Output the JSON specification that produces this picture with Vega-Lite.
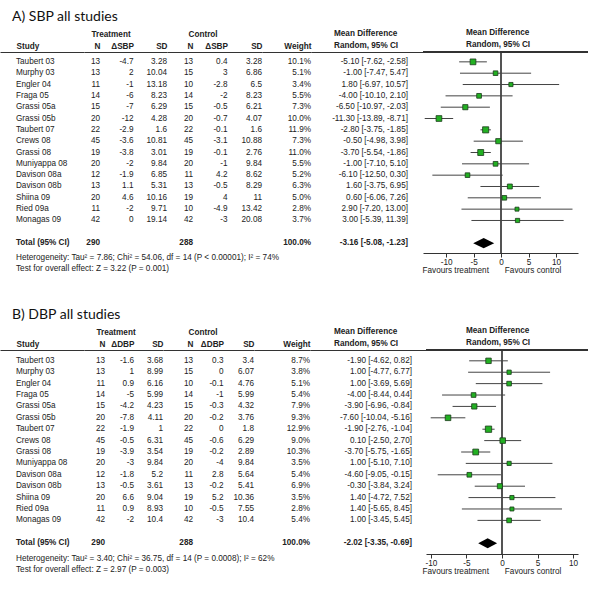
{
"$schema":"https://vega.github.io/schema/vega-lite/v6.json",
"padding":{"left":0,"top":10,"right":0,"bottom":0},
"background":"white",
"datasets":{
"sbp":[
{"study":"Taubert 03","type":"s","nt":13,"dt":-4.7,"sdt":3.28,"nc":13,"dc":0.4,"sdc":3.28,"w":10.1,"wt":"10.1%","md":-5.1,"lo":-7.62,"hi":-2.58,"ci":"-5.10 [-7.62, -2.58]"},
{"study":"Murphy 03","type":"s","nt":13,"dt":2,"sdt":10.04,"nc":15,"dc":3,"sdc":6.86,"w":5.1,"wt":"5.1%","md":-1.0,"lo":-7.47,"hi":5.47,"ci":"-1.00 [-7.47, 5.47]"},
{"study":"Engler 04","type":"s","nt":11,"dt":-1,"sdt":13.18,"nc":10,"dc":-2.8,"sdc":6.5,"w":3.4,"wt":"3.4%","md":1.8,"lo":-6.97,"hi":10.57,"ci":"1.80 [-6.97, 10.57]"},
{"study":"Fraga 05","type":"s","nt":14,"dt":-6,"sdt":8.23,"nc":14,"dc":-2,"sdc":8.23,"w":5.5,"wt":"5.5%","md":-4.0,"lo":-10.1,"hi":2.1,"ci":"-4.00 [-10.10, 2.10]"},
{"study":"Grassi 05a","type":"s","nt":15,"dt":-7,"sdt":6.29,"nc":15,"dc":-0.5,"sdc":6.21,"w":7.3,"wt":"7.3%","md":-6.5,"lo":-10.97,"hi":-2.03,"ci":"-6.50 [-10.97, -2.03]"},
{"study":"Grassi 05b","type":"s","nt":20,"dt":-12,"sdt":4.28,"nc":20,"dc":-0.7,"sdc":4.07,"w":10.0,"wt":"10.0%","md":-11.3,"lo":-13.89,"hi":-8.71,"ci":"-11.30 [-13.89, -8.71]"},
{"study":"Taubert 07","type":"s","nt":22,"dt":-2.9,"sdt":1.6,"nc":22,"dc":-0.1,"sdc":1.6,"w":11.9,"wt":"11.9%","md":-2.8,"lo":-3.75,"hi":-1.85,"ci":"-2.80 [-3.75, -1.85]"},
{"study":"Crews 08","type":"s","nt":45,"dt":-3.6,"sdt":10.81,"nc":45,"dc":-3.1,"sdc":10.88,"w":7.3,"wt":"7.3%","md":-0.5,"lo":-4.98,"hi":3.98,"ci":"-0.50 [-4.98, 3.98]"},
{"study":"Grassi 08","type":"s","nt":19,"dt":-3.8,"sdt":3.01,"nc":19,"dc":-0.1,"sdc":2.76,"w":11.0,"wt":"11.0%","md":-3.7,"lo":-5.54,"hi":-1.86,"ci":"-3.70 [-5.54, -1.86]"},
{"study":"Muniyappa 08","type":"s","nt":20,"dt":-2,"sdt":9.84,"nc":20,"dc":-1,"sdc":9.84,"w":5.5,"wt":"5.5%","md":-1.0,"lo":-7.1,"hi":5.1,"ci":"-1.00 [-7.10, 5.10]"},
{"study":"Davison 08a","type":"s","nt":12,"dt":-1.9,"sdt":6.85,"nc":11,"dc":4.2,"sdc":8.62,"w":5.2,"wt":"5.2%","md":-6.1,"lo":-12.5,"hi":0.3,"ci":"-6.10 [-12.50, 0.30]"},
{"study":"Davison 08b","type":"s","nt":13,"dt":1.1,"sdt":5.31,"nc":13,"dc":-0.5,"sdc":8.29,"w":6.3,"wt":"6.3%","md":1.6,"lo":-3.75,"hi":6.95,"ci":"1.60 [-3.75, 6.95]"},
{"study":"Shiina 09","type":"s","nt":20,"dt":4.6,"sdt":10.16,"nc":19,"dc":4,"sdc":11,"w":5.0,"wt":"5.0%","md":0.6,"lo":-6.06,"hi":7.26,"ci":"0.60 [-6.06, 7.26]"},
{"study":"Ried 09a","type":"s","nt":11,"dt":-2,"sdt":9.71,"nc":10,"dc":-4.9,"sdc":13.42,"w":2.8,"wt":"2.8%","md":2.9,"lo":-7.2,"hi":13.0,"ci":"2.90 [-7.20, 13.00]"},
{"study":"Monagas 09","type":"s","nt":42,"dt":0,"sdt":19.14,"nc":42,"dc":-3,"sdc":20.08,"w":3.7,"wt":"3.7%","md":3.0,"lo":-5.39,"hi":11.39,"ci":"3.00 [-5.39, 11.39]"},
{"study":"Total (95% CI)","type":"t","nt":290,"nc":288,"w":100,"wt":"100.0%","md":-3.16,"lo":-5.08,"hi":-1.23,"ci":"-3.16 [-5.08, -1.23]"}
],
"dbp":[
{"study":"Taubert 03","type":"s","nt":13,"dt":-1.6,"sdt":3.68,"nc":13,"dc":0.3,"sdc":3.4,"w":8.7,"wt":"8.7%","md":-1.9,"lo":-4.62,"hi":0.82,"ci":"-1.90 [-4.62, 0.82]"},
{"study":"Murphy 03","type":"s","nt":13,"dt":1,"sdt":8.99,"nc":15,"dc":0,"sdc":6.07,"w":3.8,"wt":"3.8%","md":1.0,"lo":-4.77,"hi":6.77,"ci":"1.00 [-4.77, 6.77]"},
{"study":"Engler 04","type":"s","nt":11,"dt":0.9,"sdt":6.16,"nc":10,"dc":-0.1,"sdc":4.76,"w":5.1,"wt":"5.1%","md":1.0,"lo":-3.69,"hi":5.69,"ci":"1.00 [-3.69, 5.69]"},
{"study":"Fraga 05","type":"s","nt":14,"dt":-5,"sdt":5.99,"nc":14,"dc":-1,"sdc":5.99,"w":5.4,"wt":"5.4%","md":-4.0,"lo":-8.44,"hi":0.44,"ci":"-4.00 [-8.44, 0.44]"},
{"study":"Grassi 05a","type":"s","nt":15,"dt":-4.2,"sdt":4.23,"nc":15,"dc":-0.3,"sdc":4.32,"w":7.9,"wt":"7.9%","md":-3.9,"lo":-6.96,"hi":-0.84,"ci":"-3.90 [-6.96, -0.84]"},
{"study":"Grassi 05b","type":"s","nt":20,"dt":-7.8,"sdt":4.11,"nc":20,"dc":-0.2,"sdc":3.76,"w":9.3,"wt":"9.3%","md":-7.6,"lo":-10.04,"hi":-5.16,"ci":"-7.60 [-10.04, -5.16]"},
{"study":"Taubert 07","type":"s","nt":22,"dt":-1.9,"sdt":1,"nc":22,"dc":0,"sdc":1.8,"w":12.9,"wt":"12.9%","md":-1.9,"lo":-2.76,"hi":-1.04,"ci":"-1.90 [-2.76, -1.04]"},
{"study":"Crews 08","type":"s","nt":45,"dt":-0.5,"sdt":6.31,"nc":45,"dc":-0.6,"sdc":6.29,"w":9.0,"wt":"9.0%","md":0.1,"lo":-2.5,"hi":2.7,"ci":"0.10 [-2.50, 2.70]"},
{"study":"Grassi 08","type":"s","nt":19,"dt":-3.9,"sdt":3.54,"nc":19,"dc":-0.2,"sdc":2.89,"w":10.3,"wt":"10.3%","md":-3.7,"lo":-5.75,"hi":-1.65,"ci":"-3.70 [-5.75, -1.65]"},
{"study":"Muniyappa 08","type":"s","nt":20,"dt":-3,"sdt":9.84,"nc":20,"dc":-4,"sdc":9.84,"w":3.5,"wt":"3.5%","md":1.0,"lo":-5.1,"hi":7.1,"ci":"1.00 [-5.10, 7.10]"},
{"study":"Davison 08a","type":"s","nt":12,"dt":-1.8,"sdt":5.2,"nc":11,"dc":2.8,"sdc":5.64,"w":5.4,"wt":"5.4%","md":-4.6,"lo":-9.05,"hi":-0.15,"ci":"-4.60 [-9.05, -0.15]"},
{"study":"Davison 08b","type":"s","nt":13,"dt":-0.5,"sdt":3.61,"nc":13,"dc":-0.2,"sdc":5.41,"w":6.9,"wt":"6.9%","md":-0.3,"lo":-3.84,"hi":3.24,"ci":"-0.30 [-3.84, 3.24]"},
{"study":"Shiina 09","type":"s","nt":20,"dt":6.6,"sdt":9.04,"nc":19,"dc":5.2,"sdc":10.36,"w":3.5,"wt":"3.5%","md":1.4,"lo":-4.72,"hi":7.52,"ci":"1.40 [-4.72, 7.52]"},
{"study":"Ried 09a","type":"s","nt":11,"dt":0.9,"sdt":8.93,"nc":10,"dc":-0.5,"sdc":7.55,"w":2.8,"wt":"2.8%","md":1.4,"lo":-5.65,"hi":8.45,"ci":"1.40 [-5.65, 8.45]"},
{"study":"Monagas 09","type":"s","nt":42,"dt":-2,"sdt":10.4,"nc":42,"dc":-3,"sdc":10.4,"w":5.4,"wt":"5.4%","md":1.0,"lo":-3.45,"hi":5.45,"ci":"1.00 [-3.45, 5.45]"},
{"study":"Total (95% CI)","type":"t","nt":290,"nc":288,"w":100,"wt":"100.0%","md":-2.02,"lo":-3.35,"hi":-0.69,"ci":"-2.02 [-3.35, -0.69]"}
]
},
"bounds":"flush",
"spacing":298,
"vconcat":[
{
"title":{"text":"A)  SBP all studies","anchor":"start","font":"Lato","fontSize":14,"fontWeight":"normal","color":"#111","dx":12,"offset":4},
"bounds":"flush","spacing":0,
"hconcat":[
{"width":84,"height":201,"data":{"name":"sbp"},
"title":{"text":["Heterogeneity: Tau² = 7.86; Chi² = 54.06, df = 14 (P < 0.00001); I² = 74%","Test for overall effect: Z = 3.22 (P = 0.001)"],"orient":"bottom","anchor":"start","frame":"group","dx":16,"offset":1,"fontSize":8.2,"fontWeight":"normal","lineHeight":11,"color":"#222","font":"Liberation Sans"},
"encoding":{
"x":{"datum":"Study","type":"nominal","scale":{"type":"point","padding":0.5,"align":0.19},"axis":{"orient":"top","labelAlign":"left","labelFontWeight":"bold","ticks":false,"domain":true,"labelPadding":2,"labelAngle":0,"title":null}},
"y":{"field":"study","type":"nominal","scale":{"type":"point","domain":["Taubert 03","Murphy 03","Engler 04","Fraga 05","Grassi 05a","Grassi 05b","Taubert 07","Crews 08","Grassi 08","Muniyappa 08","Davison 08a","Davison 08b","Shiina 09","Ried 09a","Monagas 09"," ","Total (95% CI)"],"padding":0.87,"align":0.5},"axis":null}},
"layer":[
{"transform":[{"filter":"datum.type=='s'"}],"mark":{"type":"text","align":"left"},"encoding":{"text":{"field":"study","type":"nominal"}}},
{"transform":[{"filter":"datum.type=='t'"}],"mark":{"type":"text","align":"left","fontWeight":"bold"},"encoding":{"text":{"field":"study","type":"nominal"}}}
]},
{"width":83,"height":201,"data":{"name":"sbp"},
"transform":[{"fold":["nt","dt","sdt"],"as":["m","v"]},{"filter":"isValid(datum.v)"}],
"encoding":{
"x":{"field":"m","type":"nominal","scale":{"type":"point","domain":["nt","dt","sdt"],"padding":0.239,"align":1},"axis":{"orient":"top","labelExpr":"{'nt':'N','dt':'ΔSBP','sdt':'SD'}[datum.value]","labelAlign":"right","labelFontWeight":"bold","ticks":false,"domain":true,"labelPadding":2,"labelAngle":0,"title":"Treatment","titleX":7,"titleAlign":"left","titlePadding":3}},
"y":{"field":"study","type":"nominal","scale":{"type":"point","domain":["Taubert 03","Murphy 03","Engler 04","Fraga 05","Grassi 05a","Grassi 05b","Taubert 07","Crews 08","Grassi 08","Muniyappa 08","Davison 08a","Davison 08b","Shiina 09","Ried 09a","Monagas 09"," ","Total (95% CI)"],"padding":0.87,"align":0.5},"axis":null}},
"layer":[
{"transform":[{"filter":"datum.type=='s'"}],"mark":{"type":"text","align":"right"},"encoding":{"text":{"field":"v","type":"nominal"}}},
{"transform":[{"filter":"datum.type=='t'"}],"mark":{"type":"text","align":"right","fontWeight":"bold"},"encoding":{"text":{"field":"v","type":"nominal"}}}
]},
{"width":95,"height":201,"data":{"name":"sbp"},
"transform":[{"fold":["nc","dc","sdc"],"as":["m","v"]},{"filter":"isValid(datum.v)"}],
"encoding":{
"x":{"field":"m","type":"nominal","scale":{"type":"point","domain":["nc","dc","sdc"],"padding":0.377,"align":1},"axis":{"orient":"top","labelExpr":"{'nc':'N','dc':'ΔSBP','sdc':'SD'}[datum.value]","labelAlign":"right","labelFontWeight":"bold","ticks":false,"domain":true,"labelPadding":2,"labelAngle":0,"title":"Control","titleX":21,"titleAlign":"left","titlePadding":3}},
"y":{"field":"study","type":"nominal","scale":{"type":"point","domain":["Taubert 03","Murphy 03","Engler 04","Fraga 05","Grassi 05a","Grassi 05b","Taubert 07","Crews 08","Grassi 08","Muniyappa 08","Davison 08a","Davison 08b","Shiina 09","Ried 09a","Monagas 09"," ","Total (95% CI)"],"padding":0.87,"align":0.5},"axis":null}},
"layer":[
{"transform":[{"filter":"datum.type=='s'"}],"mark":{"type":"text","align":"right"},"encoding":{"text":{"field":"v","type":"nominal"}}},
{"transform":[{"filter":"datum.type=='t'"}],"mark":{"type":"text","align":"right","fontWeight":"bold"},"encoding":{"text":{"field":"v","type":"nominal"}}}
]},
{"width":49,"height":201,"data":{"name":"sbp"},
"encoding":{
"x":{"datum":"Weight","type":"nominal","scale":{"type":"point","padding":0.5,"align":1},"axis":{"orient":"top","labelAlign":"right","labelFontWeight":"bold","ticks":false,"domain":true,"labelPadding":2,"labelAngle":0,"title":null}},
"y":{"field":"study","type":"nominal","scale":{"type":"point","domain":["Taubert 03","Murphy 03","Engler 04","Fraga 05","Grassi 05a","Grassi 05b","Taubert 07","Crews 08","Grassi 08","Muniyappa 08","Davison 08a","Davison 08b","Shiina 09","Ried 09a","Monagas 09"," ","Total (95% CI)"],"padding":0.87,"align":0.5},"axis":null}},
"layer":[
{"transform":[{"filter":"datum.type=='s'"}],"mark":{"type":"text","align":"right"},"encoding":{"text":{"field":"wt","type":"nominal"}}},
{"transform":[{"filter":"datum.type=='t'"}],"mark":{"type":"text","align":"right","fontWeight":"bold"},"encoding":{"text":{"field":"wt","type":"nominal"}}}
]},
{"width":112,"height":201,"data":{"name":"sbp"},
"title":{"text":["Mean Difference","Random, 95% CI"],"anchor":"start","frame":"group","dx":23,"offset":2,"fontSize":8.2,"fontWeight":"bold","lineHeight":12,"color":"#222","font":"Liberation Sans"},
"encoding":{
"x":{"datum":"MD","type":"nominal","scale":{"type":"point","padding":0.5,"align":0.866},"axis":{"orient":"top","labels":false,"ticks":false,"domain":true,"title":null}},
"y":{"field":"study","type":"nominal","scale":{"type":"point","domain":["Taubert 03","Murphy 03","Engler 04","Fraga 05","Grassi 05a","Grassi 05b","Taubert 07","Crews 08","Grassi 08","Muniyappa 08","Davison 08a","Davison 08b","Shiina 09","Ried 09a","Monagas 09"," ","Total (95% CI)"],"padding":0.87,"align":0.5},"axis":null}},
"layer":[
{"transform":[{"filter":"datum.type=='s'"}],"mark":{"type":"text","align":"right"},"encoding":{"text":{"field":"ci","type":"nominal"}}},
{"transform":[{"filter":"datum.type=='t'"}],"mark":{"type":"text","align":"right","fontWeight":"bold"},"encoding":{"text":{"field":"ci","type":"nominal"}}}
]},
{"width":155,"height":201,"data":{"name":"sbp"},
"title":{"text":["Mean Difference","Random, 95% CI"],"anchor":"start","frame":"group","dx":43,"offset":2,"fontSize":8.2,"fontWeight":"bold","lineHeight":12,"color":"#222","font":"Liberation Sans"},
"layer":[
{"mark":{"type":"rule","color":"#555","strokeWidth":1},"encoding":{"x":{"datum":0,"type":"quantitative","scale":{"domain":[-14.2,14.0],"nice":false,"zero":false},"axis":{"orient":"bottom","values":[-10,-5,0,5,10],"tickCount":5,"domain":true,"ticks":true,"tickSize":4,"labelExpr":"''+datum.value","labelOverlap":false,"labelBound":false,"labelFlush":false,"labelPadding":1,"title":"Favours treatment\u00a0\u00a0\u00a0\u00a0\u00a0\u00a0\u00a0Favours control","titleX":-1,"titleAlign":"left","titleAnchor":"start","titleFontWeight":"normal","titlePadding":1,"grid":false}}}},
{"mark":{"type":"rule","color":"#333","strokeWidth":1},"encoding":{"x":{"datum":-14.2,"type":"quantitative","scale":{"domain":[-14.2,14.0],"nice":false,"zero":false},"axis":{"orient":"bottom","values":[-10,-5,0,5,10],"tickCount":5,"domain":true,"ticks":true,"tickSize":4,"labelExpr":"''+datum.value","labelOverlap":false,"labelBound":false,"labelFlush":false,"labelPadding":1,"title":"Favours treatment\u00a0\u00a0\u00a0\u00a0\u00a0\u00a0\u00a0Favours control","titleX":-1,"titleAlign":"left","titleAnchor":"start","titleFontWeight":"normal","titlePadding":1,"grid":false}},"x2":{"datum":15.82},"y":{"value":0}}},
{"transform":[{"filter":"datum.type=='s'"}],"mark":{"type":"rule","color":"#444","strokeWidth":1},"encoding":{"x":{"field":"lo","type":"quantitative","scale":{"domain":[-14.2,14.0],"nice":false,"zero":false},"axis":{"orient":"bottom","values":[-10,-5,0,5,10],"tickCount":5,"domain":true,"ticks":true,"tickSize":4,"labelExpr":"''+datum.value","labelOverlap":false,"labelBound":false,"labelFlush":false,"labelPadding":1,"title":"Favours treatment\u00a0\u00a0\u00a0\u00a0\u00a0\u00a0\u00a0Favours control","titleX":-1,"titleAlign":"left","titleAnchor":"start","titleFontWeight":"normal","titlePadding":1,"grid":false}},"x2":{"field":"hi"},"y":{"field":"study","type":"nominal","scale":{"type":"point","domain":["Taubert 03","Murphy 03","Engler 04","Fraga 05","Grassi 05a","Grassi 05b","Taubert 07","Crews 08","Grassi 08","Muniyappa 08","Davison 08a","Davison 08b","Shiina 09","Ried 09a","Monagas 09"," ","Total (95% CI)"],"padding":0.87,"align":0.5},"axis":null}}},
{"transform":[{"filter":"datum.type=='s'"}],"mark":{"type":"point","shape":"square","filled":true,"fill":"#22b022","stroke":"#1a3a1a","strokeWidth":0.8,"opacity":1},"encoding":{"x":{"field":"md","type":"quantitative","scale":{"domain":[-14.2,14.0],"nice":false,"zero":false},"axis":{"orient":"bottom","values":[-10,-5,0,5,10],"tickCount":5,"domain":true,"ticks":true,"tickSize":4,"labelExpr":"''+datum.value","labelOverlap":false,"labelBound":false,"labelFlush":false,"labelPadding":1,"title":"Favours treatment\u00a0\u00a0\u00a0\u00a0\u00a0\u00a0\u00a0Favours control","titleX":-1,"titleAlign":"left","titleAnchor":"start","titleFontWeight":"normal","titlePadding":1,"grid":false}},"y":{"field":"study","type":"nominal","scale":{"type":"point","domain":["Taubert 03","Murphy 03","Engler 04","Fraga 05","Grassi 05a","Grassi 05b","Taubert 07","Crews 08","Grassi 08","Muniyappa 08","Davison 08a","Davison 08b","Shiina 09","Ried 09a","Monagas 09"," ","Total (95% CI)"],"padding":0.87,"align":0.5},"axis":null},"size":{"field":"w","type":"quantitative","scale":{"domain":[2,13],"range":[14,40]},"legend":null}}},
{"transform":[{"filter":"datum.type=='t'"}],"mark":{"type":"point","shape":"M-1,0L0,-0.48L1,0L0,0.48Z","filled":true,"color":"#000","size":441,"opacity":1},"encoding":{"x":{"field":"md","type":"quantitative","scale":{"domain":[-14.2,14.0],"nice":false,"zero":false},"axis":{"orient":"bottom","values":[-10,-5,0,5,10],"tickCount":5,"domain":true,"ticks":true,"tickSize":4,"labelExpr":"''+datum.value","labelOverlap":false,"labelBound":false,"labelFlush":false,"labelPadding":1,"title":"Favours treatment\u00a0\u00a0\u00a0\u00a0\u00a0\u00a0\u00a0Favours control","titleX":-1,"titleAlign":"left","titleAnchor":"start","titleFontWeight":"normal","titlePadding":1,"grid":false}},"y":{"field":"study","type":"nominal","scale":{"type":"point","domain":["Taubert 03","Murphy 03","Engler 04","Fraga 05","Grassi 05a","Grassi 05b","Taubert 07","Crews 08","Grassi 08","Muniyappa 08","Davison 08a","Davison 08b","Shiina 09","Ried 09a","Monagas 09"," ","Total (95% CI)"],"padding":0.87,"align":0.5},"axis":null}}}
]}
]
},
{
"title":{"text":"B)  DBP all studies","anchor":"start","font":"Lato","fontSize":14,"fontWeight":"normal","color":"#111","dx":12,"offset":4},
"bounds":"flush","spacing":0,
"hconcat":[
{"width":84,"height":204,"data":{"name":"dbp"},
"title":{"text":["Heterogeneity: Tau² = 3.40; Chi² = 36.75, df = 14 (P = 0.0008); I² = 62%","Test for overall effect: Z = 2.97 (P = 0.003)"],"orient":"bottom","anchor":"start","frame":"group","dx":16,"offset":1,"fontSize":8.2,"fontWeight":"normal","lineHeight":11,"color":"#222","font":"Liberation Sans"},
"encoding":{
"x":{"datum":"Study","type":"nominal","scale":{"type":"point","padding":0.5,"align":0.19},"axis":{"orient":"top","labelAlign":"left","labelFontWeight":"bold","ticks":false,"domain":true,"labelPadding":2,"labelAngle":0,"title":null}},
"y":{"field":"study","type":"nominal","scale":{"type":"point","domain":["Taubert 03","Murphy 03","Engler 04","Fraga 05","Grassi 05a","Grassi 05b","Taubert 07","Crews 08","Grassi 08","Muniyappa 08","Davison 08a","Davison 08b","Shiina 09","Ried 09a","Monagas 09"," ","Total (95% CI)"],"padding":0.95,"align":0.5},"axis":null}},
"layer":[
{"transform":[{"filter":"datum.type=='s'"}],"mark":{"type":"text","align":"left"},"encoding":{"text":{"field":"study","type":"nominal"}}},
{"transform":[{"filter":"datum.type=='t'"}],"mark":{"type":"text","align":"left","fontWeight":"bold"},"encoding":{"text":{"field":"study","type":"nominal"}}}
]},
{"width":79,"height":204,"data":{"name":"dbp"},
"transform":[{"fold":["nt","dt","sdt"],"as":["m","v"]},{"filter":"isValid(datum.v)"}],
"encoding":{
"x":{"field":"m","type":"nominal","scale":{"type":"point","domain":["nt","dt","sdt"],"padding":0.362,"align":1},"axis":{"orient":"top","labelExpr":"{'nt':'N','dt':'ΔDBP','sdt':'SD'}[datum.value]","labelAlign":"right","labelFontWeight":"bold","ticks":false,"domain":true,"labelPadding":2,"labelAngle":0,"title":"Treatment","titleX":12,"titleAlign":"left","titlePadding":3}},
"y":{"field":"study","type":"nominal","scale":{"type":"point","domain":["Taubert 03","Murphy 03","Engler 04","Fraga 05","Grassi 05a","Grassi 05b","Taubert 07","Crews 08","Grassi 08","Muniyappa 08","Davison 08a","Davison 08b","Shiina 09","Ried 09a","Monagas 09"," ","Total (95% CI)"],"padding":0.95,"align":0.5},"axis":null}},
"layer":[
{"transform":[{"filter":"datum.type=='s'"}],"mark":{"type":"text","align":"right"},"encoding":{"text":{"field":"v","type":"nominal"}}},
{"transform":[{"filter":"datum.type=='t'"}],"mark":{"type":"text","align":"right","fontWeight":"bold"},"encoding":{"text":{"field":"v","type":"nominal"}}}
]},
{"width":91,"height":204,"data":{"name":"dbp"},
"transform":[{"fold":["nc","dc","sdc"],"as":["m","v"]},{"filter":"isValid(datum.v)"}],
"encoding":{
"x":{"field":"m","type":"nominal","scale":{"type":"point","domain":["nc","dc","sdc"],"padding":0.492,"align":1},"axis":{"orient":"top","labelExpr":"{'nc':'N','dc':'ΔDBP','sdc':'SD'}[datum.value]","labelAlign":"right","labelFontWeight":"bold","ticks":false,"domain":true,"labelPadding":2,"labelAngle":0,"title":"Control","titleX":25,"titleAlign":"left","titlePadding":3}},
"y":{"field":"study","type":"nominal","scale":{"type":"point","domain":["Taubert 03","Murphy 03","Engler 04","Fraga 05","Grassi 05a","Grassi 05b","Taubert 07","Crews 08","Grassi 08","Muniyappa 08","Davison 08a","Davison 08b","Shiina 09","Ried 09a","Monagas 09"," ","Total (95% CI)"],"padding":0.95,"align":0.5},"axis":null}},
"layer":[
{"transform":[{"filter":"datum.type=='s'"}],"mark":{"type":"text","align":"right"},"encoding":{"text":{"field":"v","type":"nominal"}}},
{"transform":[{"filter":"datum.type=='t'"}],"mark":{"type":"text","align":"right","fontWeight":"bold"},"encoding":{"text":{"field":"v","type":"nominal"}}}
]},
{"width":56,"height":204,"data":{"name":"dbp"},
"encoding":{
"x":{"datum":"Weight","type":"nominal","scale":{"type":"point","padding":0.5,"align":1},"axis":{"orient":"top","labelAlign":"right","labelFontWeight":"bold","ticks":false,"domain":true,"labelPadding":2,"labelAngle":0,"title":null}},
"y":{"field":"study","type":"nominal","scale":{"type":"point","domain":["Taubert 03","Murphy 03","Engler 04","Fraga 05","Grassi 05a","Grassi 05b","Taubert 07","Crews 08","Grassi 08","Muniyappa 08","Davison 08a","Davison 08b","Shiina 09","Ried 09a","Monagas 09"," ","Total (95% CI)"],"padding":0.95,"align":0.5},"axis":null}},
"layer":[
{"transform":[{"filter":"datum.type=='s'"}],"mark":{"type":"text","align":"right"},"encoding":{"text":{"field":"wt","type":"nominal"}}},
{"transform":[{"filter":"datum.type=='t'"}],"mark":{"type":"text","align":"right","fontWeight":"bold"},"encoding":{"text":{"field":"wt","type":"nominal"}}}
]},
{"width":116,"height":204,"data":{"name":"dbp"},
"title":{"text":["Mean Difference","Random, 95% CI"],"anchor":"start","frame":"group","dx":24,"offset":2,"fontSize":8.2,"fontWeight":"bold","lineHeight":12,"color":"#222","font":"Liberation Sans"},
"encoding":{
"x":{"datum":"MD","type":"nominal","scale":{"type":"point","padding":0.5,"align":0.879},"axis":{"orient":"top","labels":false,"ticks":false,"domain":true,"title":null}},
"y":{"field":"study","type":"nominal","scale":{"type":"point","domain":["Taubert 03","Murphy 03","Engler 04","Fraga 05","Grassi 05a","Grassi 05b","Taubert 07","Crews 08","Grassi 08","Muniyappa 08","Davison 08a","Davison 08b","Shiina 09","Ried 09a","Monagas 09"," ","Total (95% CI)"],"padding":0.95,"align":0.5},"axis":null}},
"layer":[
{"transform":[{"filter":"datum.type=='s'"}],"mark":{"type":"text","align":"right"},"encoding":{"text":{"field":"ci","type":"nominal"}}},
{"transform":[{"filter":"datum.type=='t'"}],"mark":{"type":"text","align":"right","fontWeight":"bold"},"encoding":{"text":{"field":"ci","type":"nominal"}}}
]},
{"width":152,"height":204,"data":{"name":"dbp"},
"title":{"text":["Mean Difference","Random, 95% CI"],"anchor":"start","frame":"group","dx":40,"offset":2,"fontSize":8.2,"fontWeight":"bold","lineHeight":12,"color":"#222","font":"Liberation Sans"},
"layer":[
{"mark":{"type":"rule","color":"#555","strokeWidth":1},"encoding":{"x":{"datum":0,"type":"quantitative","scale":{"domain":[-10.7,10.7],"nice":false,"zero":false},"axis":{"orient":"bottom","values":[-10,-5,0,5,10],"tickCount":5,"domain":true,"ticks":true,"tickSize":4,"labelExpr":"''+datum.value","labelOverlap":false,"labelBound":false,"labelFlush":false,"labelPadding":1,"title":"Favours treatment\u00a0\u00a0\u00a0\u00a0\u00a0\u00a0\u00a0Favours control","titleX":-4,"titleAlign":"left","titleAnchor":"start","titleFontWeight":"normal","titlePadding":1,"grid":false}}}},
{"mark":{"type":"rule","color":"#333","strokeWidth":1},"encoding":{"x":{"datum":-10.7,"type":"quantitative","scale":{"domain":[-10.7,10.7],"nice":false,"zero":false},"axis":{"orient":"bottom","values":[-10,-5,0,5,10],"tickCount":5,"domain":true,"ticks":true,"tickSize":4,"labelExpr":"''+datum.value","labelOverlap":false,"labelBound":false,"labelFlush":false,"labelPadding":1,"title":"Favours treatment\u00a0\u00a0\u00a0\u00a0\u00a0\u00a0\u00a0Favours control","titleX":-4,"titleAlign":"left","titleAnchor":"start","titleFontWeight":"normal","titlePadding":1,"grid":false}},"x2":{"datum":12.11},"y":{"value":0}}},
{"transform":[{"filter":"datum.type=='s'"}],"mark":{"type":"rule","color":"#444","strokeWidth":1},"encoding":{"x":{"field":"lo","type":"quantitative","scale":{"domain":[-10.7,10.7],"nice":false,"zero":false},"axis":{"orient":"bottom","values":[-10,-5,0,5,10],"tickCount":5,"domain":true,"ticks":true,"tickSize":4,"labelExpr":"''+datum.value","labelOverlap":false,"labelBound":false,"labelFlush":false,"labelPadding":1,"title":"Favours treatment\u00a0\u00a0\u00a0\u00a0\u00a0\u00a0\u00a0Favours control","titleX":-4,"titleAlign":"left","titleAnchor":"start","titleFontWeight":"normal","titlePadding":1,"grid":false}},"x2":{"field":"hi"},"y":{"field":"study","type":"nominal","scale":{"type":"point","domain":["Taubert 03","Murphy 03","Engler 04","Fraga 05","Grassi 05a","Grassi 05b","Taubert 07","Crews 08","Grassi 08","Muniyappa 08","Davison 08a","Davison 08b","Shiina 09","Ried 09a","Monagas 09"," ","Total (95% CI)"],"padding":0.95,"align":0.5},"axis":null}}},
{"transform":[{"filter":"datum.type=='s'"}],"mark":{"type":"point","shape":"square","filled":true,"fill":"#22b022","stroke":"#1a3a1a","strokeWidth":0.8,"opacity":1},"encoding":{"x":{"field":"md","type":"quantitative","scale":{"domain":[-10.7,10.7],"nice":false,"zero":false},"axis":{"orient":"bottom","values":[-10,-5,0,5,10],"tickCount":5,"domain":true,"ticks":true,"tickSize":4,"labelExpr":"''+datum.value","labelOverlap":false,"labelBound":false,"labelFlush":false,"labelPadding":1,"title":"Favours treatment\u00a0\u00a0\u00a0\u00a0\u00a0\u00a0\u00a0Favours control","titleX":-4,"titleAlign":"left","titleAnchor":"start","titleFontWeight":"normal","titlePadding":1,"grid":false}},"y":{"field":"study","type":"nominal","scale":{"type":"point","domain":["Taubert 03","Murphy 03","Engler 04","Fraga 05","Grassi 05a","Grassi 05b","Taubert 07","Crews 08","Grassi 08","Muniyappa 08","Davison 08a","Davison 08b","Shiina 09","Ried 09a","Monagas 09"," ","Total (95% CI)"],"padding":0.95,"align":0.5},"axis":null},"size":{"field":"w","type":"quantitative","scale":{"domain":[2,13],"range":[14,40]},"legend":null}}},
{"transform":[{"filter":"datum.type=='t'"}],"mark":{"type":"point","shape":"M-1,0L0,-0.53L1,0L0,0.53Z","filled":true,"color":"#000","size":357,"opacity":1},"encoding":{"x":{"field":"md","type":"quantitative","scale":{"domain":[-10.7,10.7],"nice":false,"zero":false},"axis":{"orient":"bottom","values":[-10,-5,0,5,10],"tickCount":5,"domain":true,"ticks":true,"tickSize":4,"labelExpr":"''+datum.value","labelOverlap":false,"labelBound":false,"labelFlush":false,"labelPadding":1,"title":"Favours treatment\u00a0\u00a0\u00a0\u00a0\u00a0\u00a0\u00a0Favours control","titleX":-4,"titleAlign":"left","titleAnchor":"start","titleFontWeight":"normal","titlePadding":1,"grid":false}},"y":{"field":"study","type":"nominal","scale":{"type":"point","domain":["Taubert 03","Murphy 03","Engler 04","Fraga 05","Grassi 05a","Grassi 05b","Taubert 07","Crews 08","Grassi 08","Muniyappa 08","Davison 08a","Davison 08b","Shiina 09","Ried 09a","Monagas 09"," ","Total (95% CI)"],"padding":0.95,"align":0.5},"axis":null}}}
]}
]
}
],
"config":{
"view":{"stroke":null},
"font":"Liberation Sans",
"text":{"fontSize":8.2,"baseline":"middle","color":"#222","font":"Liberation Sans"},
"axis":{"labelFont":"Liberation Sans","labelFontSize":8.2,"labelColor":"#222","titleFont":"Liberation Sans","titleFontSize":8.2,"titleFontWeight":"bold","titleColor":"#222","domainColor":"#333","tickColor":"#333","grid":false}
}
}
